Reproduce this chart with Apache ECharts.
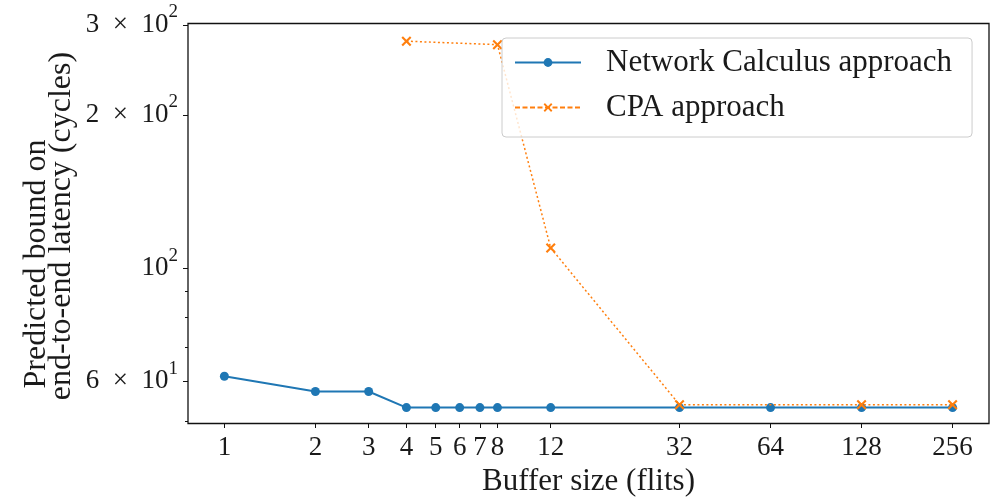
<!DOCTYPE html>
<html><head><meta charset="utf-8">
<script src="https://cdn.jsdelivr.net/npm/echarts@6/dist/echarts.min.js"></script>
<style>html,body{margin:0;padding:0;background:#fff}#c{width:1001px;height:501px}</style>
</head><body><div id="c"></div>
<script>
// ---- data ----
const bufferSizes = [1, 2, 3, 4, 5, 6, 7, 8, 12, 32, 64, 128, 256];
const ncValues = [61.4, 57.3, 57.3, 53.3, 53.3, 53.3, 53.3, 53.3, 53.3, 53.3, 53.3, 53.3, 53.3];
const cpaSizes = [4, 8, 12, 32, 128, 256];
const cpaValues = [278.8, 274.5, 109.6, 54.0, 54.0, 54.0];
const xTickValues = [1, 2, 3, 4, 5, 6, 7, 8, 12, 32, 64, 128, 256];
const yLabelValues = [60, 100, 200, 300];
const yLabelMantissa = ['6\u2002×\u2002', '', '2\u2002×\u2002', '3\u2002×\u2002'];
const yLabelExponent = ['1', '2', '2', '2'];
const yMinorValues = [50, 70, 80, 90];
const seriesNames = ['Network Calculus approach', 'CPA approach'];
const xTitle = 'Buffer size (flits)';
const yTitleLines = ['Predicted bound on', 'end-to-end latency (cycles)'];

// ---- chart ----
const FONT = '"Liberation Serif", "Times New Roman", serif';
const TXT = '#1a1a1a';
const BLUE = '#1f77b4';
const ORANGE = '#ff7f0e';
const X_PATH = 'path://M0,1.5L1.5,0L5,3.5L8.5,0L10,1.5L6.5,5L10,8.5L8.5,10L5,6.5L1.5,10L0,8.5L3.5,5Z';

const chart = echarts.init(document.getElementById('c'), null, {renderer: 'canvas'});

function yAxisBase() {
  return {
    type: 'log', logBase: 10, min: 49.6, max: 302, position: 'left', offset: 0,
    axisLine: {show: false}, splitLine: {show: false},
    minorTick: {show: false}, minorSplitLine: {show: false}
  };
}
const yMain = Object.assign(yAxisBase(), {
  axisTick: {show: true, customValues: yLabelValues, length: 5, lineStyle: {color: '#111', width: 1}},
  axisLabel: {
    show: true, customValues: yLabelValues, margin: 10, fontSize: 27, fontFamily: FONT, color: TXT,
    formatter: function (v) {
      const i = yLabelValues.findIndex(t => Math.abs(t - v) < 0.01 * t);
      if (i < 0) return '';
      return '{m|' + yLabelMantissa[i] + '10}{s|' + yLabelExponent[i] + '}';
    },
    rich: {
      m: {fontSize: 27, fontFamily: FONT, color: TXT, lineHeight: 27},
      s: {fontSize: 19, fontFamily: FONT, color: TXT, lineHeight: 19, padding: [0, 0, 25, 0]}
    }
  }
});
const yMinor = Object.assign(yAxisBase(), {
  axisTick: {show: true, customValues: yMinorValues, length: 3, lineStyle: {color: '#111', width: 1}},
  axisLabel: {show: false}
});

const option = {
  animation: false,
  backgroundColor: '#fff',
  grid: {
    left: 188, right: 12, top: 23.5, bottom: 77.5, show: true,
    borderColor: '#111', borderWidth: 1.3, backgroundColor: 'transparent',
    containLabel: false, outerBoundsMode: 'none'
  },
  xAxis: {
    type: 'log', logBase: 2, min: 0.758, max: 337.8,
    axisLine: {show: false}, splitLine: {show: false}, minorTick: {show: false},
    axisTick: {show: true, customValues: xTickValues, length: 4.5, lineStyle: {color: '#111', width: 1}},
    axisLabel: {
      show: true, customValues: xTickValues, margin: 11, fontSize: 27, fontFamily: FONT, color: TXT,
      hideOverlap: false,
      formatter: v => String(Math.round(v))
    },
    name: xTitle, nameLocation: 'middle', nameGap: 41,
    nameTextStyle: {fontSize: 31, fontFamily: FONT, color: TXT}
  },
  yAxis: [yMain, yMinor],
  legend: {
    orient: 'vertical', left: 502, top: 38, padding: [9, 20, 14, 12],
    itemWidth: 66, itemHeight: 11, itemGap: 14,
    backgroundColor: 'rgba(255,255,255,0.8)', borderColor: '#cccccc', borderWidth: 1, borderRadius: 4,
    textStyle: {fontSize: 31, fontFamily: FONT, color: TXT, padding: [0, 0, 0, 20]},
    selectedMode: false,
    data: [
      {name: seriesNames[0]},
      {name: seriesNames[1], lineStyle: {type: [5, 2.5]}}
    ]
  },
  series: [
    {
      name: seriesNames[0], type: 'line', xAxisIndex: 0, yAxisIndex: 0,
      data: bufferSizes.map((x, i) => [x, ncValues[i]]),
      symbol: 'circle', symbolSize: 9, showAllSymbol: true, color: BLUE,
      lineStyle: {width: 2, color: BLUE}, itemStyle: {color: BLUE}, z: 2,
      emphasis: {disabled: true}
    },
    {
      name: seriesNames[1], type: 'line', xAxisIndex: 0, yAxisIndex: 0,
      data: cpaSizes.map((x, i) => [x, cpaValues[i]]),
      symbol: X_PATH, symbolSize: 10, showAllSymbol: true, color: ORANGE,
      lineStyle: {width: 1.5, type: [2, 2.5], color: ORANGE}, itemStyle: {color: ORANGE}, z: 3,
      emphasis: {disabled: true}
    }
  ],
  graphic: [
    {type: 'text', x: 37, y: 264, rotation: Math.PI / 2,
     style: {text: yTitleLines[0], fontSize: 32, fontFamily: FONT, fill: TXT, align: 'center', verticalAlign: 'middle'}},
    {type: 'text', x: 62, y: 226, rotation: Math.PI / 2,
     style: {text: yTitleLines[1], fontSize: 32, fontFamily: FONT, fill: TXT, align: 'center', verticalAlign: 'middle'}}
  ]
};
chart.setOption(option);
</script>
</body></html>
